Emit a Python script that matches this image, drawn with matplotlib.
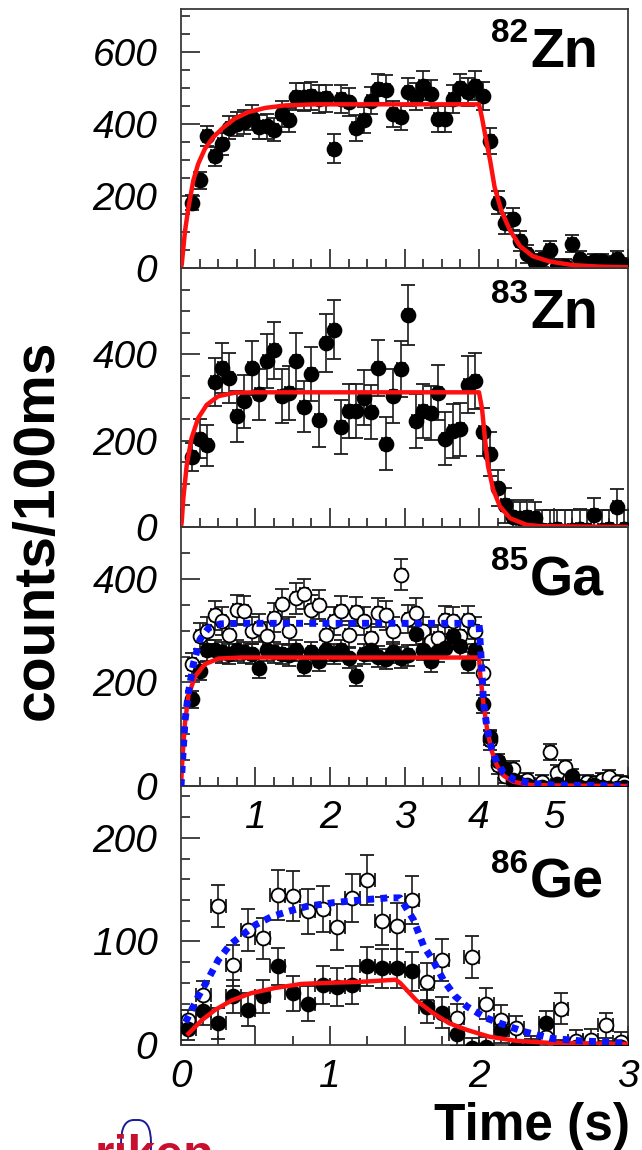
import matplotlib
matplotlib.use("Agg")
import matplotlib.pyplot as plt
import numpy as np
from matplotlib.patches import FancyBboxPatch
from matplotlib.ticker import MultipleLocator

plt.rcParams["font.family"] = ["Liberation Sans", "DejaVu Sans"]

W, H = 642, 1150

# 82Zn, 100 ms bins starting at 0.15 s
zn82_counts = [182, 244, 366, 310, 345, 390, 400, 405, 418, 391, 394, 385, 428, 412, 476,
               475, 478, 470, 472, 332, 470, 461, 389, 412, 465, 498, 496, 428, 419, 488,
               476, 507, 484, 415, 415, 470, 500, 488, 507, 478, 352, 182, 124, 136, 75,
               40, 18, 25, 50, 4, 6, 68, 25, 10, 20, 20, 12, 25, 8]
zn82_err = [20, 24, 28, 27, 30, 32, 33, 33, 35, 33, 34, 33, 35, 34, 38,
            38, 38, 38, 38, 40, 38, 38, 35, 36, 38, 40, 40, 36, 36, 39,
            38, 40, 39, 36, 36, 38, 40, 39, 40, 38, 36, 32, 30, 30, 28,
            25, 22, 22, 24, 20, 20, 24, 22, 20, 20, 20, 20, 22, 20]
zn82_fit_t = [0, 0.01, 0.054, 0.1, 0.165, 0.23, 0.32, 0.43, 0.57, 0.72, 0.9, 1.13, 1.4, 1.8,
              4.0, 4.04, 4.08, 4.15, 4.21, 4.3, 4.42, 4.55, 4.72, 4.95, 5.26, 5.6, 6.0]
zn82_fit = [0, 10, 103, 168, 243, 289, 331, 363, 391, 415, 433, 445, 452, 455,
            455, 418, 373, 298, 224, 159, 103, 61, 33, 18, 8, 4, 2]

# 83Zn
zn83_counts = [162, 205, 189, 336, 369, 346, 256, 291, 368, 307, 385, 409, 303, 311, 385,
               279, 354, 248, 426, 457, 232, 269, 269, 300, 267, 368, 193, 303, 366, 491,
               245, 269, 264, 311, 205, 222, 226, 330, 338, 220, 169, 91, 50, 24, 20,
               24, 20, -6, -8, -5, -10, -6, -4, -8, 28, -6, -5, 46, -5]
zn83_err = [32, 45, 48, 55, 58, 58, 60, 62, 62, 60, 63, 65, 62, 62, 65,
            60, 63, 62, 67, 68, 62, 62, 62, 63, 62, 65, 62, 63, 65, 70,
            62, 63, 63, 64, 62, 62, 62, 65, 65, 55, 50, 42, 40, 38, 38,
            38, 38, 45, 48, 45, 50, 45, 45, 48, 40, 45, 45, 42, 45]
zn83_fit_t = [0, 0.01, 0.03, 0.076, 0.14, 0.23, 0.345, 0.5, 0.72, 1.0,
              4.0, 4.04, 4.08, 4.12, 4.19, 4.28, 4.42, 4.64, 4.82, 6.0]
zn83_fit = [0, 12, 64, 142, 205, 252, 283, 303, 311, 312,
            312, 275, 205, 142, 87, 48, 20, 5, 2, 0]

# 85Ga, filled and open
ga85_filled = [167, 222, 262, 262, 258, 255, 262, 258, 255, 228, 262, 258, 255, 252, 262,
               232, 258, 242, 262, 255, 262, 248, 212, 255, 262, 250, 245, 258, 248, 252,
               294, 263, 241, 260, 267, 289, 270, 238, 263, 158, 94, 49, 33, 12, 4,
               2, -3, -2, -4, 3, -3, 20, -2, -3, 2, -2, -3, -4, -2]
ga85_filled_err = [16, 18, 20, 20, 20, 20, 20, 20, 20, 19, 20, 20, 20, 20, 20,
                   19, 20, 20, 20, 20, 20, 20, 19, 20, 20, 20, 20, 20, 20, 20,
                   21, 20, 20, 20, 20, 21, 20, 20, 20, 17, 14, 12, 12, 10, 10,
                   10, 10, 10, 10, 10, 10, 12, 10, 10, 10, 10, 10, 10, 10]
ga85_open = [235, 290, 300, 330, 318, 292, 340, 338, 300, 305, 290, 325, 352, 300, 362,
             370, 340, 350, 292, 318, 338, 292, 336, 318, 286, 334, 330, 300, 408, 322,
             334, 300, 280, 285, 321, 318, 290, 321, 300, 219, 88, 40, 20, 33, 5,
             12, -2, 8, 66, 26, 36, 10, -3, 8, 6, 12, 17, 8, 5]
ga85_open_err = [22, 25, 26, 28, 27, 26, 28, 28, 26, 27, 26, 28, 29, 26, 29,
                 29, 28, 28, 26, 27, 28, 26, 28, 27, 26, 28, 28, 26, 30, 27,
                 28, 26, 26, 26, 27, 27, 26, 27, 26, 24, 18, 16, 15, 15, 14,
                 14, 14, 14, 16, 15, 15, 14, 14, 14, 14, 14, 14, 14, 14]
ga85_red_t = [0, 0.02, 0.054, 0.1, 0.19, 0.32, 0.5, 0.8, 4.0, 4.02, 4.06, 4.11, 4.17,
              4.24, 4.33, 4.46, 4.7, 5.0, 6.0]
ga85_red = [0, 55, 123, 175, 212, 235, 246, 248, 248, 210, 160, 108, 68, 40, 20, 8, 2, 1, 0]
ga85_blue_t = [0, 0.03, 0.054, 0.1, 0.165, 0.255, 0.37, 0.53, 0.8, 4.0, 4.01, 4.04, 4.06,
               4.11, 4.17, 4.24, 4.33, 4.46, 4.7, 5.0, 6.0]
ga85_blue = [0, 71, 126, 180, 235, 283, 305, 313, 314, 314, 290, 219, 161, 110, 71, 46,
             26, 13, 5, 2, 0]

# 86Ge, bins starting at 0.05 s
ge86_open = [24, 48, 134, 77, 111, 103, 145, 144, 129, 131, 114, 142, 159, 120, 115,
             140, 61, 82, 26, 85, 40, 24, 16, -3, 8, 35, 4, 5, 19, 3]
ge86_open_err = [10, 14, 20, 20, 20, 20, 24, 24, 22, 22, 22, 23, 24, 23, 22,
                 23, 18, 20, 14, 20, 15, 15, 12, 12, 12, 15, 10, 10, 12, 10]
ge86_filled = [15, 33, 21, 47, 34, 47, 76, 50, 40, 58, 56, 58, 76, 74, 74,
               71, 37, 31, 11, -3, -2, 14, -3, -2, 21, -3, -2, -3, -4, -2]
ge86_filled_err = [10, 14, 15, 16, 16, 16, 18, 17, 17, 18, 18, 18, 19, 19, 19,
                   19, 16, 15, 12, 10, 10, 12, 8, 8, 12, 8, 8, 8, 8, 8]
ge86_red_t = [0.05, 0.14, 0.23, 0.34, 0.47, 0.63, 0.81, 0.99, 1.21, 1.44,
              1.47, 1.58, 1.69, 1.8, 1.92, 2.07, 2.25, 2.48, 3.0]
ge86_red = [11, 24, 34, 43, 50, 55, 59, 60, 61, 63, 60, 43, 31, 21, 14.5, 8, 4, 2, 1]
ge86_blue_t = [0.03, 0.116, 0.18, 0.25, 0.33, 0.41, 0.5, 0.61, 0.72, 0.85, 1.03, 1.21,
               1.39, 1.47, 1.56, 1.63, 1.69, 1.76, 1.84, 1.92, 2.05, 2.14, 2.3, 2.48,
               2.68, 2.97]
ge86_blue = [22, 47, 63, 82, 97, 106, 116, 124, 129, 134, 137.5, 140, 142, 142, 121, 95,
             82, 63, 47, 37, 26, 21, 13, 6.5, 4, 2]

RED = "#ff1010"
BLUE = "#0a14ff"


def px(x, y):
    return x / W, 1 - y / H


def bins(values, first):
    return first + 0.1 * np.arange(len(values))


def points(ax, t, v, err, filled):
    ax.errorbar(t, v, yerr=err, xerr=0.05, fmt="o", ms=10,
                mfc="black" if filled else "white", mec="black", mew=1.3,
                ecolor="#1c1c1c", elinewidth=1.2, capsize=5, capthick=1.2, zorder=3)


def frame(ax, ymax, ymaj, ymin, xmax, xmaj, xmin):
    ax.set_xlim(0, xmax)
    ax.set_ylim(0, ymax)
    ax.patch.set_visible(False)
    yt = np.arange(0, ymax + 1e-9, ymaj)
    yt = yt[yt < ymax - 1e-6]
    ax.set_yticks(yt)
    ax.set_yticklabels([f"{v:g}" for v in yt], fontsize=28, fontstyle="italic")
    ax.yaxis.set_minor_locator(MultipleLocator(ymin))
    ax.set_xticks(np.arange(0, xmax + 1e-9, xmaj))
    ax.xaxis.set_minor_locator(MultipleLocator(xmin))
    ax.tick_params(which="both", direction="in", top=False, right=False,
                   color="#222222", width=1.2)
    ax.tick_params(which="major", length=13.5)
    ax.tick_params(which="minor", length=6.8)
    ax.tick_params(axis="y", pad=17)
    ax.tick_params(axis="x", pad=10)
    for s in ax.spines.values():
        s.set_color("#3a3a3a")
        s.set_linewidth(1.3)


fig = plt.figure(figsize=(W / 100, H / 100), dpi=100)
left, width = 181 / W, 447 / W
tops = [9, 268, 527, 786]
axes = [fig.add_axes([left, 1 - (t + 259) / H, width, 259 / H]) for t in tops]
ax1, ax2, ax3, ax4 = axes

# 82Zn
points(ax1, bins(zn82_counts, 0.15), zn82_counts, zn82_err, True)
ax1.plot(zn82_fit_t, zn82_fit, color=RED, lw=3.2, zorder=4)
frame(ax1, 720, 200, 50, 6, 1, 0.25)
ax1.tick_params(axis="x", labelbottom=False)

# 83Zn
points(ax2, bins(zn83_counts, 0.15), zn83_counts, zn83_err, True)
ax2.plot(zn83_fit_t, zn83_fit, color=RED, lw=3.2, zorder=4)
frame(ax2, 600, 200, 50, 6, 1, 0.25)
ax2.tick_params(axis="x", labelbottom=False)

# 85Ga
points(ax3, bins(ga85_open, 0.15), ga85_open, ga85_open_err, False)
points(ax3, bins(ga85_filled, 0.15), ga85_filled, ga85_filled_err, True)
ax3.plot(ga85_red_t, ga85_red, color=RED, lw=3.2, zorder=4)
ax3.plot(ga85_blue_t, ga85_blue, color=BLUE, lw=5, ls=(0, (1.0, 0.9)),
         dash_capstyle="butt", zorder=5)
frame(ax3, 500, 200, 50, 6, 1, 0.25)
ax3.set_xticklabels(["", "1", "2", "3", "4", "5", ""], fontsize=28, fontstyle="italic")
ax3.set_zorder(2)

# 86Ge
points(ax4, bins(ge86_open, 0.05), ge86_open, ge86_open_err, False)
points(ax4, bins(ge86_filled, 0.05), ge86_filled, ge86_filled_err, True)
ax4.plot(ge86_red_t, ge86_red, color=RED, lw=3.2, zorder=4)
ax4.plot(ge86_blue_t, ge86_blue, color=BLUE, lw=5, ls=(0, (1.0, 0.9)),
         dash_capstyle="butt", zorder=5)
frame(ax4, 250, 100, 20, 3, 0.5, 0.25)
ax4.set_xticklabels(["0", "", "1", "", "2", "", "3"], fontsize=28, fontstyle="italic")

# isotope labels
for (mass, elem), base in zip([("82", "Zn"), ("83", "Zn"), ("85", "Ga"), ("86", "Ge")],
                              [67, 328, 595, 898]):
    fig.text(*px(528, base - 25), mass, fontsize=24, fontweight="bold",
             ha="right", va="baseline")
    fig.text(*px(530, base), elem, fontsize=40, fontweight="bold",
             ha="left", va="baseline")

fig.text(*px(630, 1140), "Time (s)", fontsize=37, fontweight="bold",
         ha="right", va="baseline")
fig.text(*px(38, 530), "counts/100ms", fontsize=41, fontweight="bold",
         rotation=90, ha="center", va="center")

# logo peeking in at the lower edge
fig.text(*px(95, 1170), "riken", fontsize=36, fontweight="bold", color="#c8102e",
         ha="left", va="baseline")
fig.patches.append(FancyBboxPatch(px(121, 1170), 30 / W, 50 / H,
                                  boxstyle="round,pad=0,rounding_size=0.02",
                                  transform=fig.transFigure, fill=False,
                                  ec="#1a1a9c", lw=1.4))

fig.savefig("out.png", dpi=100)
